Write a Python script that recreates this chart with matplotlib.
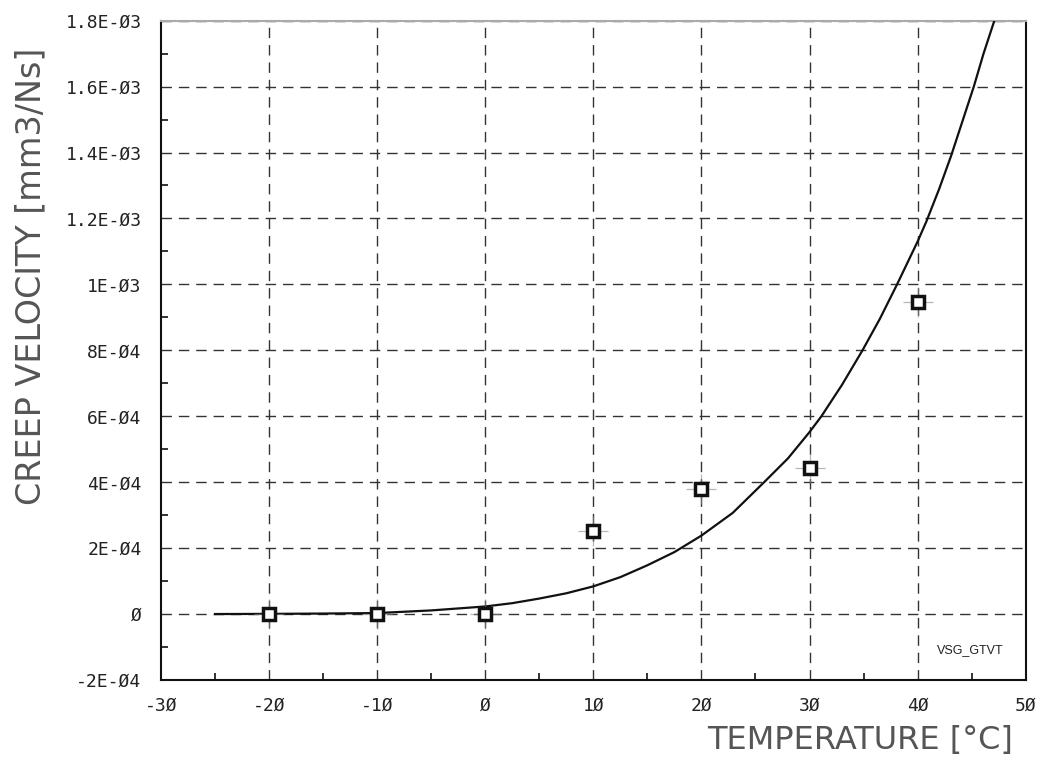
import numpy as np
import matplotlib.pyplot as plt
from matplotlib.ticker import MultipleLocator, FixedLocator

# measured points (squares)
temp_meas = [-20, -10, 0, 10, 20, 30, 40]
creep_meas = [0.0, 0.0, 0.0, 2.53e-4, 3.78e-4, 4.42e-4, 9.47e-4]

# fitted curve
temp_fit = [-25, -20, -15, -10, -5, 0, 2.5, 5, 7.5, 10, 12.5, 15, 17.5, 20, 22.9,
            25.8, 28, 30, 31.1, 33, 34.9, 36.5, 38.1, 40, 40.8, 42, 43.1, 44.2,
            45.2, 46.1, 47.1]
creep_fit = [0.0, 0.5e-6, 1.5e-6, 3e-6, 1.1e-5, 2.3e-5, 3.3e-5, 4.7e-5, 6.3e-5,
             8.4e-5, 1.12e-4, 1.48e-4, 1.88e-4, 2.38e-4, 3.07e-4, 4.0e-4, 4.72e-4,
             5.52e-4, 6.0e-4, 6.95e-4, 8.0e-4, 8.95e-4, 1.0e-3, 1.13e-3, 1.19e-3,
             1.29e-3, 1.39e-3, 1.5e-3, 1.6e-3, 1.7e-3, 1.8e-3]

x_ticks = [-30, -20, -10, 0, 10, 20, 30, 40, 50]
x_labels = ['-3\u00d8', '-2\u00d8', '-1\u00d8', '\u00d8', '1\u00d8', '2\u00d8', '3\u00d8', '4\u00d8', '5\u00d8']
y_ticks = [-2e-4, 0, 2e-4, 4e-4, 6e-4, 8e-4, 1e-3, 1.2e-3, 1.4e-3, 1.6e-3, 1.8e-3]
y_labels = ['-2E-\u00d84', '\u00d8', '2E-\u00d84', '4E-\u00d84', '6E-\u00d84', '8E-\u00d84',
            '1E-\u00d83', '1.2E-\u00d83', '1.4E-\u00d83', '1.6E-\u00d83', '1.8E-\u00d83']

fig = plt.figure(figsize=(10.43, 7.6), dpi=100)
ax = fig.add_axes([0.1544, 0.1053, 0.829, 0.8675])

ax.set_xlim(-30, 50)
ax.set_ylim(-2e-4, 1.8e-3)

# dashed grid
for xv in x_ticks[1:-1]:
    ax.axvline(xv, color='#333333', lw=1.0, dashes=(7.5, 5), zorder=1)
for yv in y_ticks[1:]:
    ax.axhline(yv, color='#333333', lw=1.0, dashes=(7.5, 5), zorder=1)

ax.plot(temp_fit, creep_fit, color='#111111', lw=1.6, zorder=3)

# faint spikes around markers, then the squares
ax.plot(temp_meas, creep_meas, ls='none', marker='+', ms=22, mew=0.9,
        color='#888888', alpha=0.6, zorder=4)
ax.plot(temp_meas, creep_meas, ls='none', marker='s', ms=8.5, mew=2.5,
        mfc='white', mec='#111111', zorder=5)

ax.xaxis.set_major_locator(FixedLocator(x_ticks))
ax.yaxis.set_major_locator(FixedLocator(y_ticks))
ax.set_xticklabels(x_labels, family='DejaVu Sans Mono', fontsize=13, color='#222222')
ax.set_yticklabels(y_labels, family='DejaVu Sans Mono', fontsize=13, color='#222222')
ax.xaxis.set_minor_locator(MultipleLocator(5))
ax.yaxis.set_minor_locator(MultipleLocator(1e-4))
ax.tick_params(which='major', length=0, pad=12)
ax.tick_params(axis='y', which='major', pad=14)
ax.tick_params(which='minor', direction='in', length=5, width=1.2, color='#111111')
ax.tick_params(which='minor', top=False, right=False)

for s in ['left', 'bottom', 'right']:
    ax.spines[s].set_linewidth(1.5)
    ax.spines[s].set_color('#111111')
ax.spines['top'].set_linewidth(1.5)
ax.spines['top'].set_color('#aaaaaa')

ax.text(0.936, 0.045, 'VSG_GTVT', transform=ax.transAxes, ha='center', va='center',
        fontsize=9, family='Liberation Sans', color='#222222')

fig.text(0.030, 0.636, 'CREEP VELOCITY [mm3/Ns]', rotation=90, ha='center', va='center',
         fontsize=24, color='#555555')
fig.text(0.971, 0.025, 'TEMPERATURE [\u00b0C]', ha='right', va='center',
         fontsize=23, color='#555555')

fig.savefig('out.png', dpi=100)
